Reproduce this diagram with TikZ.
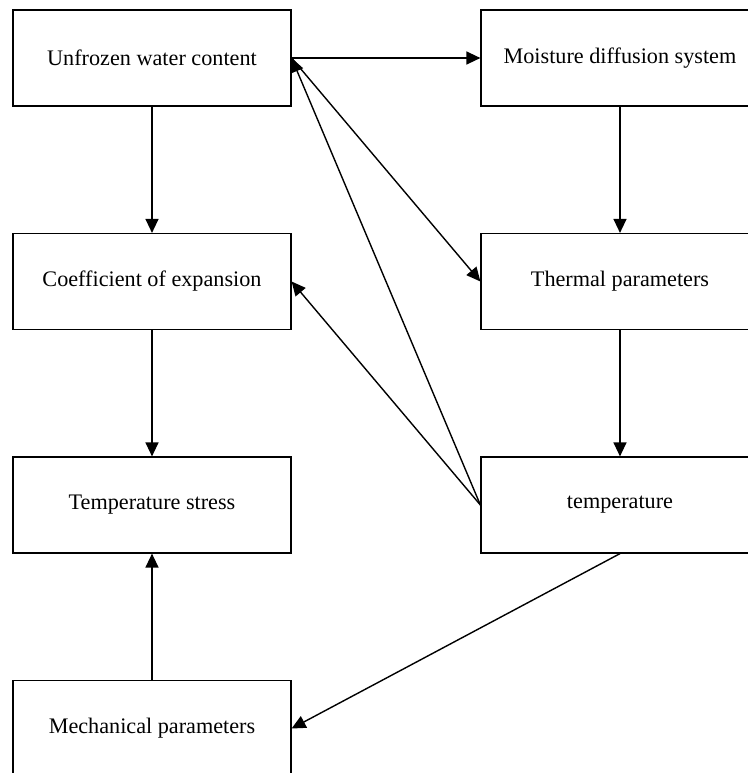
\documentclass[tikz,border=0pt]{standalone}
\usepackage{fontspec}
\setmainfont{Liberation Serif}
\usetikzlibrary{arrows.meta}
\begin{document}
\begin{tikzpicture}[node distance = 111.75pt, auto,
  box/.style={draw, line width=0.6pt, minimum width=139pt, minimum height=48pt,
    inner sep=0pt, font=\fontsize{11.1}{13}\selectfont},
  >={Triangle[length=7pt,width=6.5pt]}, line width=0.7pt]
\useasboundingbox (-76pt,29pt) rectangle (298pt,-357.5pt);
\clip (-76pt,29pt) rectangle (298pt,-357.5pt);
\node (1) [box] {Unfrozen water content};
\node (2) [box, right of=1, node distance=234pt] {Moisture diffusion system};
\node (3) [box, below of=1] {Coefficient of expansion};
\node (4) [box, below of=2] {Thermal parameters};
\node (5) [box, below of=3] {Temperature stress};
\node (6) [box, below of=4] {temperature};
\node (7) [box, below of=5] {Mechanical parameters};

\path [->] (1.east) edge (2.west);
\path [->] (1) edge (3);
\path [->] (2) edge (4);
\path [->] (3) edge (5);
\path [->] (4) edge (6);
\path [->] (7) edge (5);
\path [->] (1.east) edge (4.west);
\path [->] (6.west) edge (1.east);
\path [->] (6.west) edge (3.east);
\path [->] (6.south) edge (7.east);
\end{tikzpicture}
\end{document}
